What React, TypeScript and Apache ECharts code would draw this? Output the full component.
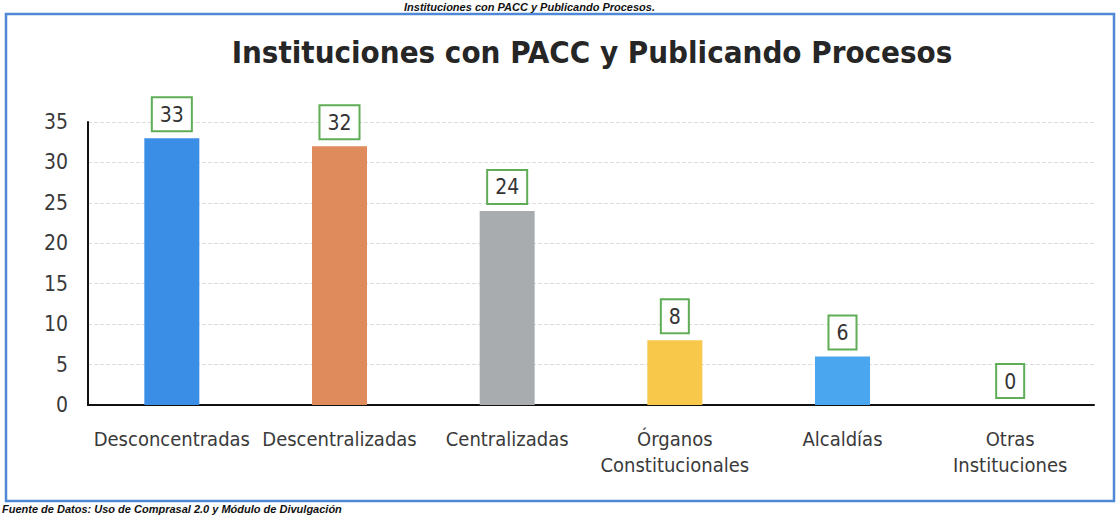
import React, { useEffect, useRef } from "react";
import * as echarts from "echarts";

const categories = [
  "Desconcentradas",
  "Descentralizadas",
  "Centralizadas",
  "Órganos\nConstitucionales",
  "Alcaldías",
  "Otras\nInstituciones",
];
const values = [33, 32, 24, 8, 6, 0];
const barColors = ["#3a8ee6", "#e08b5c", "#a9acaf", "#f7c84a", "#4aa6ef", "#8fbfe8"];
const yTicks = { min: 0, max: 35, interval: 5 };
const titleText = "Instituciones con PACC y Publicando Procesos";
const captionTop = "Instituciones con PACC y Publicando Procesos.";
const captionBottom = "Fuente de Datos: Uso de Comprasal 2.0 y Módulo de Divulgación";

const FONT = "'DejaVu Sans Condensed', 'DejaVu Sans', sans-serif";

export default function App() {
  const ref = useRef<HTMLDivElement>(null);
  useEffect(() => {
    if (!ref.current) return;
    const chart = echarts.init(ref.current, null, { renderer: "svg" });
    chart.setOption({
      animation: false,
      backgroundColor: "#ffffff",
      textStyle: { fontFamily: FONT },
      title: {
        text: titleText,
        left: 587,
        textAlign: "center",
        top: 31,
        textStyle: { fontFamily: FONT, fontWeight: "bold", fontSize: 31, color: "#262626" },
      },
      graphic: [
        {
          type: "rect",
          shape: { x: 6, y: 14, width: 1108, height: 487 },
          style: { fill: "none", stroke: "#4f88d6", lineWidth: 2.5 },
          silent: true,
        },
        {
          type: "text",
          x: 655,
          y: 1,
          style: {
            text: captionTop,
            align: "right",
            verticalAlign: "top",
            font: "italic bold 11px 'Liberation Sans', Arial, sans-serif",
            fill: "#111",
          },
        },
        {
          type: "text",
          x: 2,
          y: 503,
          style: {
            text: captionBottom,
            align: "left",
            verticalAlign: "top",
            font: "italic bold 11px 'Liberation Sans', Arial, sans-serif",
            fill: "#111",
          },
        },
      ],
      grid: { left: 88, right: 26, top: 122, bottom: 110, containLabel: false },
      xAxis: {
        type: "category",
        data: categories,
        axisLine: { show: true, lineStyle: { color: "#111", width: 2 } },
        axisTick: { show: false },
        axisLabel: {
          interval: 0,
          fontSize: 20,
          color: "#3a3a3a",
          margin: 21,
          lineHeight: 26,
          fontFamily: FONT,
        },
      },
      yAxis: {
        type: "value",
        min: yTicks.min,
        max: yTicks.max,
        interval: yTicks.interval,
        axisLine: { show: true, lineStyle: { color: "#111", width: 2 } },
        axisTick: { show: false },
        axisLabel: { fontSize: 21, color: "#3a3a3a", margin: 20, fontFamily: FONT },
        splitLine: { show: true, lineStyle: { color: "#dcdcdc", type: "dashed", width: 1 } },
      },
      series: [
        {
          type: "bar",
          data: values.map((v, i) => ({ value: v, itemStyle: { color: barColors[i] } })),
          barWidth: 55,
          label: {
            show: true,
            position: "top",
            distance: 8,
            fontSize: 21,
            color: "#333",
            fontFamily: FONT,
            backgroundColor: "#ffffff",
            borderColor: "#5fad56",
            borderWidth: 2,
            padding: [6, 7, 5, 7],
          },
        },
      ],
    });
    return () => chart.dispose();
  }, []);
  return (
    <div
      ref={ref}
      style={{ position: "fixed", left: 0, top: 0, width: 1120, height: 515 }}
    />
  );
}
